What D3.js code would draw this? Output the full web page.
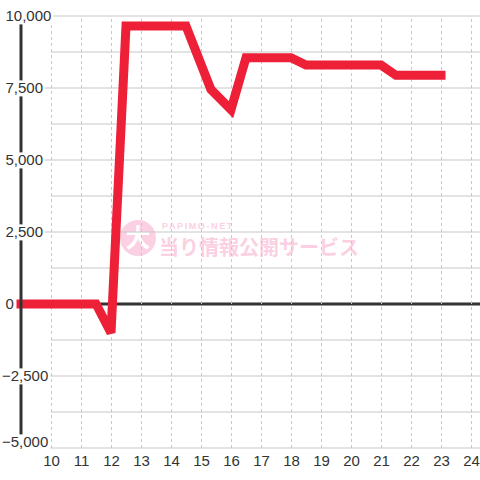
<!DOCTYPE html>
<html>
<head>
<meta charset="utf-8">
<script src="https://cdn.jsdelivr.net/npm/d3@7"></script>
<style>
	body { margin: 0; background: #fff; }
	svg { display: block; font-family: "Liberation Sans", Arial, sans-serif; }
</style>
</head>
<body>
<svg id="chart" width="480" height="480"></svg>
<script>
// slump data: hour of day -> coin difference
var times = [9, 11.5, 12, 12.5, 14.5, 15.33, 16, 16.5, 18, 18.5, 21, 21.5, 23];
var values = [0, 0, -1000, 9650, 9650, 7450, 6750, 8550, 8550, 8300, 8300, 7940, 7940];
var xTicks = [10, 11, 12, 13, 14, 15, 16, 17, 18, 19, 20, 21, 22, 23, 24];
var yLabels = [10000, 7500, 5000, 2500, 0, -2500, -5000];
var yGrid = [10000, 8750, 7500, 6250, 5000, 3750, 2500, 1250, -1250, -2500, -3750, -5000];

var svg = d3.select("#chart"),
	W = 480,
	top_ = 16,
	bottom = 448,
	axisX = 21,
	gridLeft = 51;

var x = d3.scaleLinear().domain([10, 24]).range([51, 471]);
var y = d3.scaleLinear().domain([-5000, 10000]).range([bottom, top_]);

// watermark
var wm = svg.append("g").attr("class", "watermark");
wm.append("circle")
	.attr("cx", 138).attr("cy", 238).attr("r", 18)
	.attr("fill", "#fbd0e2");
wm.append("text")
	.attr("x", 138).attr("y", 247)
	.attr("text-anchor", "middle")
	.attr("font-size", 25).attr("font-weight", "bold")
	.attr("font-family", "'Noto Sans CJK JP', sans-serif")
	.attr("fill", "#fff")
	.text("大");
wm.append("text")
	.attr("x", 162).attr("y", 229)
	.attr("font-size", 9).attr("font-weight", "bold")
	.attr("letter-spacing", 1.6)
	.attr("fill", "#fbd0e2")
	.text("PAPIMO-NET");
wm.append("text")
	.attr("x", 159).attr("y", 255)
	.attr("font-size", 20).attr("font-weight", "bold")
	.attr("font-family", "'Noto Sans CJK JP', sans-serif")
	.attr("fill", "#fbd0e2")
	.text("当り情報公開サービス");

// vertical dashed grid
var gx = svg.append("g")
	.attr("transform", "translate(0," + bottom + ")")
	.call(d3.axisBottom(x).tickValues(xTicks).tickSize(-(bottom - top_)).tickFormat(""));
gx.select(".domain").remove();
gx.selectAll("line")
	.attr("stroke", "#c8c8c8")
	.attr("stroke-dasharray", "3,3");

// horizontal grid
svg.append("g").selectAll("line")
	.data(yGrid)
	.enter().append("line")
	.attr("x1", function(d) { return yLabels.indexOf(d) >= 0 ? 44 : gridLeft; })
	.attr("x2", W)
	.attr("y1", function(d) { return y(d); })
	.attr("y2", function(d) { return y(d); })
	.attr("stroke", "#c8c8c8")
	.attr("stroke-width", 1.2);

// x labels
var xl = svg.append("g")
	.attr("transform", "translate(0," + bottom + ")")
	.call(d3.axisBottom(x).tickValues(xTicks).tickSize(0).tickPadding(7));
xl.select(".domain").remove();
xl.selectAll("text")
	.attr("font-size", 15)
	.attr("font-family", "'Liberation Sans', Arial, sans-serif")
	.attr("fill", "#333");

// data line
var line = d3.line()
	.x(function(d) { return x(d[0]); })
	.y(function(d) { return y(d[1]); });
svg.append("path")
	.datum(d3.zip(times, values))
	.attr("d", line)
	.attr("fill", "none")
	.attr("stroke", "#ee2038")
	.attr("stroke-width", 9)
	.attr("stroke-linecap", "square")
	.attr("stroke-linejoin", "miter")
	.attr("stroke-miterlimit", 2);

// zero line + left axis
svg.append("line")
	.attr("x1", axisX).attr("x2", W)
	.attr("y1", y(0)).attr("y2", y(0))
	.attr("stroke", "#333").attr("stroke-width", 3)
	.lower();
svg.select(".watermark").lower();
svg.append("line")
	.attr("x1", axisX).attr("x2", axisX)
	.attr("y1", top_).attr("y2", bottom)
	.attr("stroke", "#333").attr("stroke-width", 3);

// y labels with white background (bottom one nudged up)
var fmt = d3.format(",");
var yl = svg.append("g");
yLabels.forEach(function(v) {
	var g = yl.append("g");
	var t = g.append("text")
		.attr("x", v < 0 ? 2 : 5.5)
		.attr("y", y(v) - (v === -5000 ? 6 : 0))
		.attr("dy", "0.36em")
		.attr("font-size", 15)
		.attr("fill", "#333")
		.text(fmt(v));
	var b = t.node().getBBox();
	g.insert("rect", "text")
		.attr("x", b.x - 1).attr("y", b.y + 1)
		.attr("width", b.width + 3).attr("height", b.height - 1)
		.attr("fill", "#fff");
});
</script>
</body>
</html>
